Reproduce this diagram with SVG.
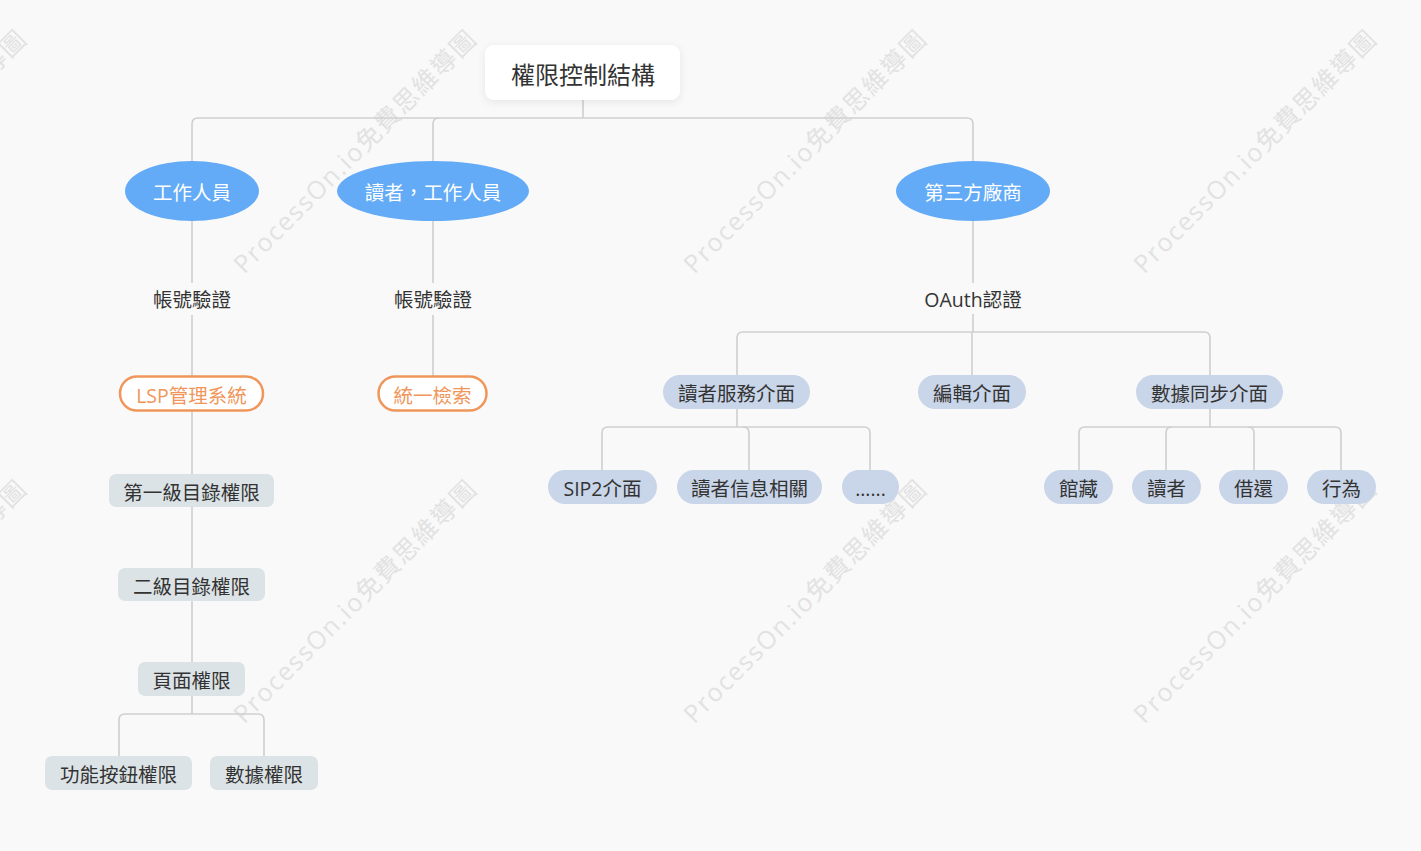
<svg xmlns="http://www.w3.org/2000/svg" width="1421" height="851" viewBox="0 0 1421 851">
<defs>
<filter id="sh" x="-20%" y="-40%" width="140%" height="180%">
<feDropShadow dx="0" dy="2" stdDeviation="4" flood-color="#000" flood-opacity="0.08"/>
</filter>
</defs>
<style>
text{font-family:"Open Sans","Noto Sans CJK TC","Noto Sans CJK SC",sans-serif;}
.t{font-size:19.5px;fill:#333;text-anchor:middle;dominant-baseline:central;transform:translateY(1.5px);}
.w{font-size:19.5px;fill:#fff;text-anchor:middle;dominant-baseline:central;transform:translateY(1.5px);}
.o{font-size:19.5px;fill:#f0965a;text-anchor:middle;dominant-baseline:central;transform:translateY(1.5px);}
.ell{fill:#63abf6;}
.gray{fill:#dce3e6;}
.blue{fill:#c9d5e8;}
.orange{fill:#fff;stroke:#f0965a;stroke-width:2.5;}
.c path{fill:none;stroke:#cfcfcf;stroke-width:1.6;}
.wm{font-size:25px;fill:#e2e2e2;text-anchor:middle;}
</style>
<rect width="1421" height="851" fill="#f9f9f9"/>
<g id="watermarks">
<text class="wm" transform="translate(-89,158) rotate(-45)" textLength="330">ProcessOn.io免費思維導圖</text>
<text class="wm" transform="translate(361,158) rotate(-45)" textLength="330">ProcessOn.io免費思維導圖</text>
<text class="wm" transform="translate(811,158) rotate(-45)" textLength="330">ProcessOn.io免費思維導圖</text>
<text class="wm" transform="translate(1261,158) rotate(-45)" textLength="330">ProcessOn.io免費思維導圖</text>
<text class="wm" transform="translate(-89,608) rotate(-45)" textLength="330">ProcessOn.io免費思維導圖</text>
<text class="wm" transform="translate(361,608) rotate(-45)" textLength="330">ProcessOn.io免費思維導圖</text>
<text class="wm" transform="translate(811,608) rotate(-45)" textLength="330">ProcessOn.io免費思維導圖</text>
<text class="wm" transform="translate(1261,608) rotate(-45)" textLength="330">ProcessOn.io免費思維導圖</text>
</g>
<g id="connectors" class="c">
<path d="M583,100 V118"/>
<path d="M192,161 V124 Q192,118 198,118 H967 Q973,118 973,124 V161"/>
<path d="M433,161 V124 Q433,118 439,118"/>
<path d="M192,221 V283 M192,315 V376 M192,411 V474 M192,507 V568 M192,601 V662 M192,696 V714"/>
<path d="M119,756 V720 Q119,714 125,714 H258 Q264,714 264,720 V756"/>
<path d="M433,221 V283 M433,315 V376"/>
<path d="M973,221 V283 M973,314 V332"/>
<path d="M737,375 V338 Q737,332 743,332 H1204 Q1210,332 1210,338 V375"/>
<path d="M972,332 V375"/>
<path d="M737,409 V427"/>
<path d="M602,470 V433 Q602,427 608,427 H864 Q870,427 870,433 V470"/>
<path d="M749,470 V433 Q749,427 743,427"/>
<path d="M1210,409 V427"/>
<path d="M1079,470 V433 Q1079,427 1085,427 H1335 Q1341,427 1341,433 V470"/>
<path d="M1166,470 V433 Q1166,427 1172,427"/>
<path d="M1254,470 V433 Q1254,427 1248,427"/>
</g>
<g id="root">
<rect x="485" y="45" width="195" height="55" rx="9" fill="#fff" filter="url(#sh)"/>
<text class="t" x="583" y="73" style="font-size:24px">權限控制結構</text>
</g>
<g id="n-staff">
<ellipse class="ell" cx="192" cy="191" rx="67" ry="30"/>
<text class="w" x="192" y="191">工作人員</text>
</g>
<g id="n-reader-staff">
<ellipse class="ell" cx="433" cy="191" rx="96" ry="30"/>
<text class="w" x="433" y="191">讀者，工作人員</text>
</g>
<g id="n-third">
<ellipse class="ell" cx="973" cy="191" rx="77" ry="30"/>
<text class="w" x="973" y="191">第三方廠商</text>
</g>
<g id="n-auth1"><text class="t" x="192" y="298">帳號驗證</text></g>
<g id="n-auth2"><text class="t" x="433" y="298">帳號驗證</text></g>
<g id="n-oauth"><text class="t" x="973" y="298">OAuth認證</text></g>
<g id="n-lsp">
<rect class="orange" x="120" y="376.5" width="143" height="34" rx="17"/>
<text class="o" x="191.5" y="393.5">LSP管理系統</text>
</g>
<g id="n-search">
<rect class="orange" x="378.5" y="376.5" width="108" height="34" rx="17"/>
<text class="o" x="432.5" y="393.5">統一檢索</text>
</g>
<g id="n-l1">
<rect class="gray" x="109" y="474" width="165" height="33" rx="7"/>
<text class="t" x="191.5" y="490.5">第一級目錄權限</text>
</g>
<g id="n-l2">
<rect class="gray" x="118" y="568" width="147" height="33" rx="7"/>
<text class="t" x="191.5" y="584.5">二級目錄權限</text>
</g>
<g id="n-page">
<rect class="gray" x="138" y="662" width="107" height="34" rx="7"/>
<text class="t" x="191.5" y="679">頁面權限</text>
</g>
<g id="n-func">
<rect class="gray" x="45" y="756" width="147" height="34" rx="7"/>
<text class="t" x="118.5" y="773">功能按鈕權限</text>
</g>
<g id="n-data">
<rect class="gray" x="210" y="756" width="108" height="34" rx="7"/>
<text class="t" x="264" y="773">數據權限</text>
</g>
<g id="n-rsvc">
<rect class="blue" x="663" y="375" width="147" height="34" rx="17"/>
<text class="t" x="736.5" y="392">讀者服務介面</text>
</g>
<g id="n-edit">
<rect class="blue" x="918" y="375" width="108" height="34" rx="17"/>
<text class="t" x="972" y="392">編輯介面</text>
</g>
<g id="n-sync">
<rect class="blue" x="1136" y="375" width="147" height="34" rx="17"/>
<text class="t" x="1209.5" y="392">數據同步介面</text>
</g>
<g id="n-sip2">
<rect class="blue" x="548" y="470" width="109" height="34" rx="17"/>
<text class="t" x="602.5" y="487">SIP2介面</text>
</g>
<g id="n-rinfo">
<rect class="blue" x="677" y="470" width="145" height="34" rx="17"/>
<text class="t" x="749.5" y="487">讀者信息相關</text>
</g>
<g id="n-more">
<rect class="blue" x="842" y="470" width="57" height="34" rx="17"/>
<text class="t" x="870.5" y="487">......</text>
</g>
<g id="n-coll">
<rect class="blue" x="1044" y="470" width="69" height="34" rx="17"/>
<text class="t" x="1078.5" y="487">館藏</text>
</g>
<g id="n-reader">
<rect class="blue" x="1132" y="470" width="69" height="34" rx="17"/>
<text class="t" x="1166.5" y="487">讀者</text>
</g>
<g id="n-loan">
<rect class="blue" x="1219" y="470" width="69" height="34" rx="17"/>
<text class="t" x="1253.5" y="487">借還</text>
</g>
<g id="n-behav">
<rect class="blue" x="1307" y="470" width="69" height="34" rx="17"/>
<text class="t" x="1341.5" y="487">行為</text>
</g>
</svg>
